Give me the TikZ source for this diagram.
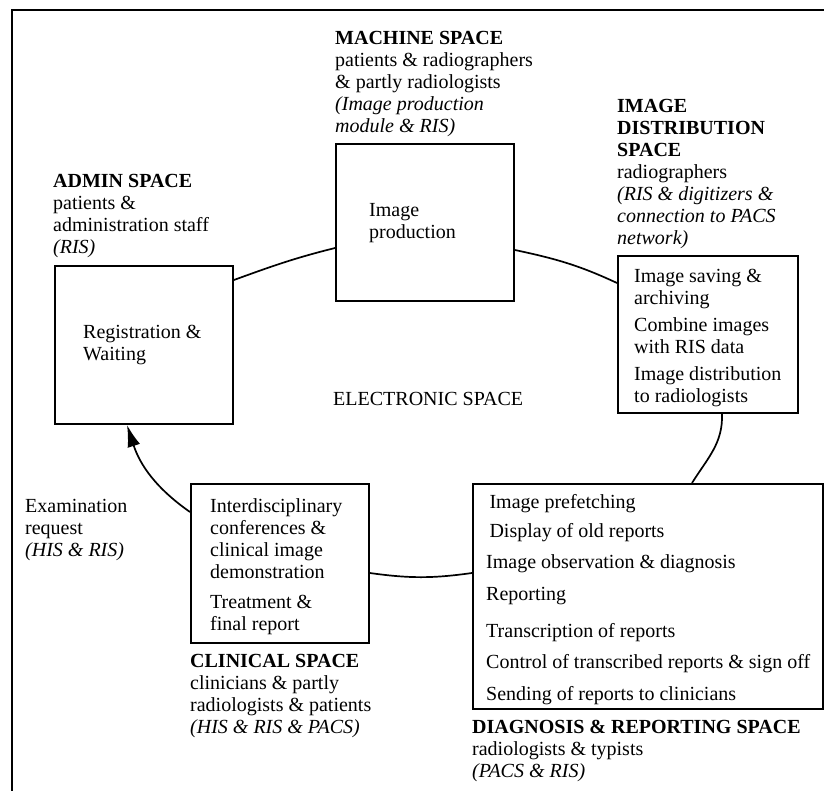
\documentclass[tikz,border=0pt]{standalone}
\usepackage{fontspec}
\setmainfont{Liberation Serif}
\usetikzlibrary{arrows.meta}
\newcommand\mylines[1]{\begin{tabular}[t]{@{}l@{}}#1\end{tabular}}
\begin{document}
\begin{tikzpicture}[x=1pt,y=1pt,
  every node/.style={font=\fontsize{20}{22}\selectfont, inner sep=0pt},
  box/.style={draw, line width=1.9pt, rectangle, anchor=north west},
  txt/.style={anchor=base west},
  conn/.style={line width=1.7pt},
  tip/.style={-{Latex[length=22pt,width=13pt]}}
]
\useasboundingbox (0,0) rectangle (824,-791);
\draw[line width=2.2pt] (824,-10) -- (12,-10) -- (12,-791);

% boxes
\node[box, minimum width=178pt, minimum height=158pt] (adm) at (54,-265) {};
\node[box, minimum width=178pt, minimum height=157pt] (mach) at (335,-143) {};
\node[box, minimum width=180pt, minimum height=157pt] (idb) at (617,-255) {};
\node[box, minimum width=178pt, minimum height=159pt] (clin) at (190,-483) {};
\node[box, minimum width=350pt, minimum height=225pt] (diag) at (472,-483) {};

% labels
\node[txt] (machlbl) at (335,-45) {\mylines{\textbf{MACHINE SPACE}\\patients \& radiographers\\\& partly radiologists\\\textit{(Image production}\\\textit{module \& RIS)}}};
\node[txt] (idlbl) at (617,-113) {\mylines{\textbf{IMAGE}\\\textbf{DISTRIBUTION}\\\textbf{SPACE}\\radiographers\\\textit{(RIS \& digitizers \&}\\\textit{connection to PACS}\\\textit{network)}}};
\node[txt] (admlbl) at (53,-188) {\mylines{\textbf{ADMIN SPACE}\\patients \&\\administration staff\\\textit{(RIS)}}};
\node[txt] (elec) at (333,-405) {ELECTRONIC SPACE};
\node[txt] (exam) at (25,-512) {\mylines{Examination\\request\\\textit{(HIS \& RIS)}}};
\node[txt] (clinlbl) at (190,-667) {\mylines{\textbf{CLINICAL SPACE}\\clinicians \& partly\\radiologists \& patients\\\textit{(HIS \& RIS \& PACS)}}};
\node[txt] (diaglbl) at (472,-733) {\mylines{\textbf{DIAGNOSIS \& REPORTING SPACE}\\radiologists \& typists\\\textit{(PACS \& RIS)}}};

% box contents
\node[txt] (admtxt) at (83,-338) {\mylines{Registration \&\\Waiting}};
\node[txt] (machtxt) at (369,-217) {\mylines{Image\\production}};
\node[txt] (idtxt) at (634,-283) {\mylines{Image saving \&\\archiving\\[5pt]Combine images\\with RIS data\\[5pt]Image distribution\\to radiologists}};
\node[txt] (clintxt) at (210,-512) {\mylines{Interdisciplinary\\conferences \&\\clinical image\\demonstration\\[8pt]Treatment \&\\final report}};
\node[txt] (diagtxt) at (486,-508) {\mylines{\,Image prefetching\\[7pt]\,Display of old reports\\[9pt]Image observation \& diagnosis\\[10pt]Reporting\\[15pt]Transcription of reports\\[9pt]Control of transcribed reports \& sign off\\[10pt]Sending of reports to clinicians}};

% connectors
\draw[conn] ([yshift=-15pt]adm.north east) to[out=20,in=194] ([yshift=-105pt]mach.north west);
\draw[conn] ([yshift=-107pt]mach.north east) to[out=-12,in=155] ([yshift=-28pt]idb.north west);
\draw[conn] ([xshift=105pt]idb.south west) to[out=-88,in=58] ([xshift=220pt]diag.north west);
\draw[conn] ([yshift=-90pt]diag.north west) to[out=188,in=-8] ([yshift=-90pt]clin.north east);
\draw[conn,tip] ([yshift=-29pt]clin.north west) to[out=145,in=-72] ([xshift=73pt]adm.south west);
\end{tikzpicture}
\end{document}
